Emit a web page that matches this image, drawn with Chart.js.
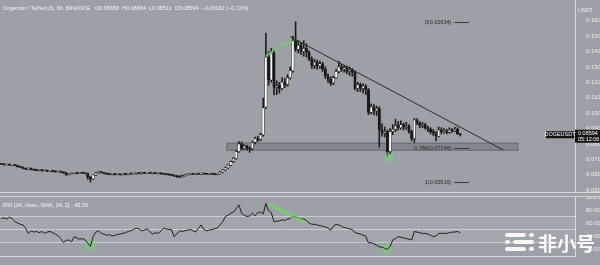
<!DOCTYPE html>
<html>
<head>
<meta charset="utf-8">
<script src="https://cdn.jsdelivr.net/npm/chart.js@4.4.1/dist/chart.umd.min.js"></script>
<style>
html, body { margin: 0; padding: 0; background: #9da0a6; width: 600px; height: 265px; overflow: hidden; font-family: 'Liberation Sans', Arial, sans-serif; }
#wrap { position: relative; width: 600px; height: 265px; }
#main { position: absolute; left: 0; top: 0; }
#sep { position: absolute; left: 0; top: 192px; width: 600px; height: 5px; border-top: 1px solid #d6d8db; border-bottom: 1px solid #cfd1d4; box-sizing: border-box; }
#rsi { position: absolute; left: 0; top: 197px; }
.hdr { position: absolute; left: 3px; color: #f3f4f5; font-size: 5.5px; white-space: pre; line-height: 7px; }
</style>
</head>
<body>
<div id="wrap">
  <canvas id="main" width="600" height="192"></canvas>
  <div id="sep"></div>
  <canvas id="rsi" width="600" height="68"></canvas>
  <div class="hdr" style="top:5px">Dogecoin / TetherUS, 6h, BINANCE   O0.08658  H0.08684  L0.08511  C0.08594  −0.00062 (−0.72%)</div>
  <div class="hdr" style="top:202px">RSI (14, close, SMA, 14, 2)   45.00</div>
</div>
<script>
// 6h candles, slot 0 = Oct 5; empty slots on the right are future space
const N_SLOTS = 213;

const opens = [
  .0670,.0668,.0664,.0666,.0662,.0665,.0660,.0652,.0648,.0640,
  .0636,.0641,.0634,.0630,.0628,.0631,.0626,.0627,.0623,.0625,
  .0622,.0619,.0621,.0616,.0612,.0600,.0606,.0610,.0612,.0609,
  .0613,.0610,.0608,.0585,.0572,.0598,.0612,.0616,.0614,.0608,
  .0604,.0602,.0605,.0601,.0603,.0600,.0604,.0602,.0606,.0605,
  .0609,.0611,.0608,.0612,.0610,.0613,.0609,.0611,.0607,.0610,
  .0606,.0604,.0602,.0599,.0596,.0592,.0588,.0586,.0594,.0599,
  .0602,.0604,.0603,.0606,.0604,.0607,.0605,.0603,.0606,.0604,
  .0602,.0605,
  .0616,.0630,.0645,.0662,.0685,.0705,.0750,.0800,.0770,.0785,
  .0772,.0768,.0810,.0835,.0828,.0860,.1040,.1364,.1215,.1390,
  .1169,.1180,.1160,.1200,.1185,.1230,.1275,.1470,.1415,.1440,
  .1400,.1420,.1395,.1350,.1310,.1330,.1305,.1320,.1285,.1240,
  .1220,.1195,.1230,.1270,.1300,.1285,.1295,.1270,.1280,.1265,
  .1160,.1185,.1160,.1175,.1150,.1005,.1040,.1015,.1030,.0890,
  .0870,.0880,.0750,.0880,.0895,.0920,.0905,.0925,.0910,.0915,
  .0880,.0835,.0955,.0935,.0920,.0925,.0905,.0895,.0880,.0870,
  .0850,.0890,.0880,.0885,.0875,.0890,.0885,.0895,.08658
];
const highs = [
  .0674,.0672,.0669,.0670,.0667,.0668,.0663,.0655,.0651,.0643,
  .0644,.0645,.0637,.0633,.0634,.0634,.0630,.0630,.0627,.0628,
  .0625,.0623,.0624,.0619,.0615,.0608,.0610,.0614,.0616,.0616,
  .0616,.0613,.0611,.0589,.0600,.0615,.0620,.0619,.0616,.0611,
  .0607,.0607,.0608,.0604,.0606,.0605,.0607,.0606,.0609,.0609,
  .0613,.0614,.0614,.0615,.0615,.0616,.0614,.0614,.0612,.0613,
  .0609,.0607,.0605,.0602,.0599,.0595,.0592,.0597,.0602,.0605,
  .0607,.0607,.0609,.0609,.0611,.0610,.0608,.0609,.0608,.0607,
  .0608,.0620,
  .0634,.0650,.0666,.0690,.0712,.0758,.0815,.0812,.0795,.0790,
  .0780,.0818,.0845,.0850,.0870,.1098,.1520,.1400,.1420,.1410,
  .1210,.1200,.1230,.1225,.1250,.1300,.1500,.1594,.1470,.1460,
  .1470,.1450,.1405,.1365,.1350,.1345,.1340,.1330,.1300,.1255,
  .1235,.1240,.1285,.1335,.1320,.1310,.1305,.1300,.1290,.1275,
  .1200,.1195,.1190,.1185,.1160,.1060,.1055,.1045,.1040,.0930,
  .0910,.0890,.0900,.0925,.0960,.0945,.0950,.0935,.0940,.0925,
  .0890,.0965,.0965,.0945,.0940,.0935,.0915,.0905,.0895,.0880,
  .0910,.0905,.0900,.0895,.0905,.0900,.0910,.0905,.08684
];
const lows = [
  .0665,.0662,.0661,.0660,.0659,.0657,.0649,.0645,.0637,.0633,
  .0633,.0631,.0627,.0625,.0625,.0623,.0623,.0620,.0620,.0619,
  .0616,.0616,.0613,.0608,.0595,.0597,.0603,.0607,.0605,.0606,
  .0607,.0605,.0570,.0552,.0568,.0594,.0609,.0611,.0605,.0601,
  .0599,.0599,.0598,.0598,.0597,.0597,.0599,.0599,.0602,.0602,
  .0603,.0605,.0604,.0607,.0607,.0607,.0605,.0606,.0604,.0603,
  .0601,.0599,.0596,.0593,.0588,.0583,.0581,.0583,.0591,.0597,
  .0599,.0600,.0600,.0601,.0601,.0602,.0600,.0600,.0601,.0599,
  .0599,.0602,
  .0613,.0627,.0640,.0658,.0680,.0700,.0745,.0762,.0765,.0760,
  .0745,.0760,.0800,.0815,.0820,.0850,.1030,.1180,.1200,.1118,
  .1120,.1130,.1150,.1165,.1175,.1220,.1265,.1400,.1390,.1380,
  .1370,.1365,.1340,.1290,.1290,.1285,.1290,.1270,.1225,.1200,
  .1180,.1185,.1225,.1260,.1270,.1265,.1255,.1245,.1240,.1150,
  .1140,.1140,.1130,.1120,.0990,.0995,.0990,.0985,.0780,.0850,
  .0845,.0715,.0735,.0860,.0880,.0890,.0895,.0890,.0895,.0870,
  .0820,.0810,.0925,.0905,.0905,.0895,.0880,.0865,.0855,.0820,
  .0845,.0865,.0870,.0865,.0870,.0875,.0880,.0860,.08511
];
const closes = [
  .0668,.0664,.0666,.0662,.0665,.0660,.0652,.0648,.0640,.0636,
  .0641,.0634,.0630,.0628,.0631,.0626,.0627,.0623,.0625,.0622,
  .0619,.0621,.0616,.0612,.0600,.0606,.0610,.0612,.0609,.0613,
  .0610,.0608,.0585,.0572,.0598,.0612,.0616,.0614,.0608,.0604,
  .0602,.0605,.0601,.0603,.0600,.0604,.0602,.0606,.0605,.0609,
  .0611,.0608,.0612,.0610,.0613,.0609,.0611,.0607,.0610,.0606,
  .0604,.0602,.0599,.0596,.0592,.0588,.0586,.0594,.0599,.0602,
  .0604,.0603,.0606,.0604,.0607,.0605,.0603,.0606,.0604,.0602,
  .0605,.0616,
  .0630,.0645,.0662,.0685,.0705,.0750,.0800,.0770,.0785,.0772,
  .0768,.0810,.0835,.0828,.0860,.1033,.1364,.1215,.1390,.1169,
  .1180,.1160,.1200,.1185,.1230,.1275,.1470,.1415,.1440,.1400,
  .1420,.1395,.1350,.1310,.1330,.1305,.1320,.1285,.1240,.1220,
  .1195,.1230,.1270,.1300,.1285,.1295,.1270,.1280,.1265,.1160,
  .1185,.1160,.1175,.1150,.1005,.1040,.1015,.1030,.0890,.0870,
  .0880,.0750,.0880,.0895,.0920,.0905,.0925,.0910,.0915,.0880,
  .0835,.0955,.0935,.0920,.0925,.0905,.0895,.0880,.0870,.0850,
  .0890,.0880,.0885,.0875,.0890,.0885,.0895,.0866,.08594
];

const rsiValues = [
  67,68,66,69,67,62,60,58,57,52, 44,48,46,47,45,47,44,46,47,45,
  43,40,36,30,33,34,31,39,37,35, 36,34,29,24,39,46,48,44,43,41,
  42,40,41,42,43,44,45,47,48,50, 52,51,48,49,51,47,43,45,44,47,
  52,51,50,50,39,43,48,47,48,49, 50,48,46,52,57,50,48,49,50,51,
  52,57,62,70,72,75,77,82,88,75, 72,70,71,75,71,76,77,74,90,79,
  76,62,63,63,65,64,66,67,70,69, 68,66,66,64,60,58,58,57,56,55,
  54,52,49,55,58,57,55,53,52,51, 50,45,44,43,41,40,29,30,28,26,
  23,23,21,19,24,34,36,39,38,37, 36,35,34,47,46,45,44,44,43,41,
  39,40,44,44,44,44,45,46,46,47, 45
];

const priceTicks = [0.05, 0.06, 0.07, 0.08, 0.09, 0.10, 0.11, 0.12, 0.13, 0.14, 0.15, 0.16];
const rsiTicks = [100, 80, 60, 40, 20];
const tickSlots = [0, 20, 33, 48, 62, 77, 91, 107, 133, 141, 160, 174, 188, 204];
const tickTexts = ['3', '10', '14:00', '17', '14:00', '24', '28', 'Nov', '7', '13:00', '14', '13:00', '21', '25'];

// drawings
const trendSlots = [107, 186];
const trendValues = [0.1496, 0.0760];
const zoneSlots = [83.3, 191.5];
const zoneValues = [0.0756, 0.0808];
const fibLevels = ['0', '0.786', '1'];
const fibValues = [0.15934, 0.07746, 0.05516];
const greenPriceSlots = [98, 103, 108];
const greenPriceValues = [0.1370, 0.1432, 0.1466];
const greenRsiSlots = [99, 112];
const greenRsiValues = [89, 62];
const glowPrice = [143.3, 0.0713];
const glowRsi = [[32.9, 26], [142.6, 20]];

const PRICE_MAX = 0.17344;
const PRICE_MIN = 0.04877;

const slots = Array.from({ length: N_SLOTS }, (_, i) => i);
const sparse = (idx, vals) => { const d = slots.map(() => null); idx.forEach((s, k) => d[s] = vals[k]); return d; };

const wickData = slots.map(i => i < lows.length ? [lows[i], highs[i]] : null);
const bodyData = slots.map(i => i < opens.length ? [opens[i], closes[i]] : null);
const bodyColors = slots.map(i => i < opens.length && closes[i] >= opens[i] ? '#f8f8f8' : '#1a1a1a');

const axisFont = { size: 6, family: 'Liberation Sans' };
const labelColor = '#eef0f2';

function glow(ctx, x, y, r) {
  const g = ctx.createRadialGradient(x, y, 0, x, y, r);
  g.addColorStop(0, 'rgba(110,225,100,0.85)');
  g.addColorStop(1, 'rgba(110,225,100,0)');
  ctx.fillStyle = g;
  ctx.beginPath(); ctx.arc(x, y, r, 0, Math.PI * 2); ctx.fill();
}

const mainDecor = {
  id: 'mainDecor',
  beforeDatasetsDraw(chart) {
    const { ctx, scales: { x, y } } = chart;
    const x0 = x.getPixelForValue(zoneSlots[0]), x1 = x.getPixelForValue(zoneSlots[1]);
    const y0 = y.getPixelForValue(zoneValues[1]), y1 = y.getPixelForValue(zoneValues[0]);
    ctx.save();
    ctx.fillStyle = 'rgba(100,103,110,0.45)';
    ctx.fillRect(x0, y0, x1 - x0, y1 - y0);
    ctx.strokeStyle = 'rgba(85,88,95,0.6)';
    ctx.lineWidth = 1;
    ctx.strokeRect(x0 + 0.5, y0 + 0.5, x1 - x0 - 1, y1 - y0 - 1);
    ctx.restore();
  },
  afterDatasetsDraw(chart) {
    const { ctx, scales: { x, y } } = chart;
    ctx.save();
    glow(ctx, x.getPixelForValue(glowPrice[0]), y.getPixelForValue(glowPrice[1]), 6);
    // fib labels
    ctx.font = '5.5px Liberation Sans';
    ctx.textAlign = 'right';
    ctx.textBaseline = 'middle';
    ctx.fillStyle = '#2a2a2a';
    ctx.strokeStyle = '#3a3a3a';
    ctx.lineWidth = 1;
    const tx = x.getPixelForValue(166.7), lx0 = x.getPixelForValue(167.8), lx1 = x.getPixelForValue(173.3);
    fibLevels.forEach((lv, k) => {
      const py = Math.round(y.getPixelForValue(fibValues[k])) + 0.5;
      ctx.fillText(lv + '(' + fibValues[k].toFixed(5) + ')', tx, py);
      ctx.beginPath(); ctx.moveTo(lx0, py); ctx.lineTo(lx1, py); ctx.stroke();
    });
    // last price labels
    const last = closes[closes.length - 1];
    const py = y.getPixelForValue(last);
    ctx.fillStyle = '#151515';
    ctx.fillRect(546, py - 3.5, 28, 7);
    ctx.fillRect(575, py - 5, 25, 13);
    ctx.fillStyle = '#ffffff';
    ctx.textAlign = 'center';
    ctx.fillText('DOGEUSDT', 560, py);
    ctx.textAlign = 'left';
    ctx.fillText(last.toFixed(5), 578, py - 1.5);
    ctx.fillText('05:12:06', 578, py + 4.5);
    ctx.fillStyle = labelColor;
    ctx.fillText('USDT', 578, 10);
    ctx.restore();
  }
};

new Chart(document.getElementById('main'), {
  type: 'bar',
  data: {
    labels: slots,
    datasets: [
      { type: 'line', data: sparse(trendSlots, trendValues), borderColor: '#2b2b2b', borderWidth: 1, pointRadius: 0, spanGaps: true, order: 0 },
      { type: 'line', data: sparse(greenPriceSlots, greenPriceValues), borderColor: 'rgba(110,215,95,0.75)', borderWidth: 2, pointRadius: 0, spanGaps: true, tension: 0.4, order: 0 },
      { data: bodyData, backgroundColor: bodyColors, borderColor: '#1c1c1c', borderWidth: 0.6, borderSkipped: false,
        barThickness: 2.4, minBarLength: 1, grouped: false, order: 1 },
      { data: wickData, backgroundColor: '#1f1f1f', barThickness: 1, grouped: false, order: 2 }
    ]
  },
  options: {
    responsive: false, animation: false, devicePixelRatio: 1,
    layout: { padding: 0 },
    plugins: { legend: { display: false }, tooltip: { enabled: false } },
    scales: {
      x: { display: false, offset: true, grid: { display: false } },
      y: {
        position: 'right', min: PRICE_MIN, max: PRICE_MAX,
        grid: { display: false }, border: { color: '#d9dbde' },
        afterBuildTicks: s => { s.ticks = priceTicks.map(v => ({ value: v })); },
        afterFit: s => { s.width = 25; s.paddingTop = 0; s.paddingBottom = 0; },
        ticks: { color: labelColor, font: axisFont, padding: 3, callback: v => v.toFixed(5) }
      }
    }
  },
  plugins: [mainDecor]
});

const rsiDecor = {
  id: 'rsiDecor',
  beforeDatasetsDraw(chart) {
    const { ctx, chartArea: a, scales: { x, y } } = chart;
    ctx.save();
    const y70 = y.getPixelForValue(70), y30 = y.getPixelForValue(30), y50 = y.getPixelForValue(50);
    ctx.fillStyle = 'rgba(255,255,255,0.07)';
    ctx.fillRect(a.left, y70, a.right - a.left, y30 - y70);
    ctx.strokeStyle = 'rgba(235,237,240,0.55)';
    ctx.lineWidth = 1;
    [y70, y50, y30].forEach(v => {
      ctx.beginPath(); ctx.moveTo(a.left, Math.round(v) + 0.5); ctx.lineTo(a.right, Math.round(v) + 0.5); ctx.stroke();
    });
    glowRsi.forEach(g => glow(ctx, x.getPixelForValue(g[0]), y.getPixelForValue(g[1]), 7));
    ctx.restore();
  },
  afterDraw(chart) {
    const { ctx } = chart;
    ctx.save();
    ctx.fillStyle = 'rgba(255,255,255,0.92)';
    const bar = (x, y, w) => { ctx.beginPath(); ctx.roundRect(x, y, w, 4, 2); ctx.fill(); };
    bar(505, 36, 21); bar(529, 36, 5);
    bar(505, 43, 5); bar(513, 43, 21);
    bar(505, 50, 21); bar(529, 50, 5);
    ctx.font = 'bold 19px "Noto Sans CJK SC"';
    ctx.textBaseline = 'alphabetic';
    ctx.fillText('非小号', 538, 54);
    ctx.restore();
  }
};

new Chart(document.getElementById('rsi'), {
  type: 'line',
  data: {
    labels: slots,
    datasets: [
      { data: sparse(greenRsiSlots, greenRsiValues), borderColor: 'rgba(110,215,95,0.6)', borderWidth: 4, pointRadius: 0, spanGaps: true },
      { data: slots.map(i => i < rsiValues.length ? rsiValues[i] : null), borderColor: '#1e1e1e', borderWidth: 1, pointRadius: 0 }
    ]
  },
  options: {
    responsive: false, animation: false, devicePixelRatio: 1,
    layout: { padding: 0 },
    plugins: { legend: { display: false }, tooltip: { enabled: false } },
    scales: {
      x: {
        offset: true, grid: { display: false }, border: { color: '#d9dbde' },
        afterBuildTicks: s => { s.ticks = tickSlots.map(v => ({ value: v })); },
        afterFit: s => { s.height = 9; s.paddingLeft = 0; s.paddingRight = 0; },
        ticks: { color: labelColor, font: axisFont, padding: 3, maxRotation: 0, autoSkip: false,
          callback: v => tickTexts[tickSlots.indexOf(v)] }
      },
      y: {
        position: 'right', min: 9.2, max: 100,
        grid: { display: false }, border: { color: '#d9dbde' },
        afterBuildTicks: s => { s.ticks = rsiTicks.map(v => ({ value: v })); },
        afterFit: s => { s.width = 25; s.paddingTop = 0; s.paddingBottom = 0; },
        ticks: { color: labelColor, font: axisFont, padding: 3, callback: v => v.toFixed(2) }
      }
    }
  },
  plugins: [rsiDecor]
});
</script>
</body>
</html>
